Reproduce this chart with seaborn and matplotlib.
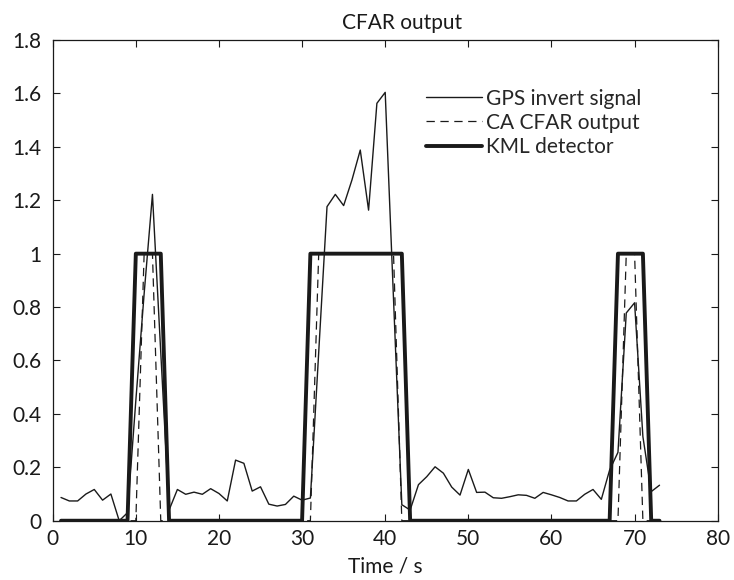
import numpy as np
import pandas as pd
import matplotlib
matplotlib.use("Agg")
import matplotlib.pyplot as plt
import seaborn as sns

# ---- data ----
time_s = list(range(1, 74))
gps_invert_signal = [
    0.087, 0.074, 0.074, 0.100, 0.117, 0.077, 0.100, 0.000, 0.030, 0.450,
    0.850, 1.222, 0.630, 0.040, 0.117, 0.099, 0.107, 0.099, 0.120, 0.102,
    0.074, 0.227, 0.215, 0.111, 0.127, 0.062, 0.055, 0.061, 0.092, 0.077,
    0.085, 0.630, 1.176, 1.222, 1.180, 1.276, 1.388, 1.163, 1.563, 1.604,
    0.830, 0.060, 0.040, 0.135, 0.165, 0.202, 0.178, 0.126, 0.096, 0.192,
    0.106, 0.107, 0.086, 0.084, 0.090, 0.097, 0.095, 0.084, 0.106, 0.097,
    0.087, 0.074, 0.074, 0.099, 0.117, 0.080, 0.190, 0.256, 0.778, 0.816,
    0.315, 0.109, 0.133,
]
ca_cfar_on = [11, 12] + list(range(32, 42)) + [69, 70]
kml_on = [10, 11, 12, 13] + list(range(31, 43)) + [68, 69, 70, 71]
ca_cfar_output = [1 if t in ca_cfar_on else 0 for t in time_s]
kml_detector = [1 if t in kml_on else 0 for t in time_s]

labels = ["GPS invert signal", "CA CFAR output", "KML detector"]
xticks = list(range(0, 81, 10))
yticks = [0, 0.2, 0.4, 0.6, 0.8, 1.0, 1.2, 1.4, 1.6, 1.8]
ytick_labels = ["0", "0.2", "0.4", "0.6", "0.8", "1", "1.2", "1.4", "1.6", "1.8"]

# ---- style ----
sns.set_style("ticks")
plt.rcParams["font.family"] = ["Lato", "DejaVu Sans"]
plt.rcParams["lines.scale_dashes"] = False

FS = 15
fig = plt.figure(figsize=(7.34, 5.80), dpi=100)
ax = fig.add_axes([0.0718, 0.1022, 0.9778 - 0.0718, 0.931 - 0.1022])

df = pd.DataFrame({"t": time_s, "sig": gps_invert_signal,
                   "cfar": ca_cfar_output, "kml": kml_detector})
ink = "#1a1a1a"
sns.lineplot(data=df, x="t", y="sig", ax=ax, color=ink, lw=1.0,
             label=labels[0], estimator=None)
sns.lineplot(data=df, x="t", y="cfar", ax=ax, color=ink, lw=0.9,
             label=labels[1], estimator=None)
ax.lines[1].set_dashes((6, 4))
sns.lineplot(data=df, x="t", y="kml", ax=ax, color=ink, lw=2.8,
             label=labels[2], estimator=None)

ax.set_xlim(0, 80)
ax.set_ylim(0, 1.8)
ax.set_xticks(xticks)
ax.set_xticklabels([str(x) for x in xticks])
ax.set_yticks(yticks)
ax.set_yticklabels(ytick_labels)
ax.tick_params(direction="in", length=5, width=0.8, labelsize=FS,
               top=True, right=True, colors=ink)
ax.tick_params(axis="y", pad=8)
ax.tick_params(axis="x", pad=6)
for s in ax.spines.values():
    s.set_visible(True)
    s.set_linewidth(0.9)
    s.set_color(ink)

ax.set_xlabel("Time / s", fontsize=FS, color=ink, labelpad=5)
ax.set_ylabel("")
ax.set_title("CFAR output", fontsize=FS, color=ink, x=0.525, pad=8)

leg = ax.legend(loc="upper left", bbox_to_anchor=(0.561, 0.899), frameon=False,
                fontsize=FS, handlelength=2.7, handletextpad=0.2,
                labelspacing=0.2, borderpad=0, borderaxespad=0)
for h in leg.get_lines():
    h.set_color(ink)
leg.get_lines()[1].set_dashes((6, 4))

fig.savefig("out.png", dpi=100)
